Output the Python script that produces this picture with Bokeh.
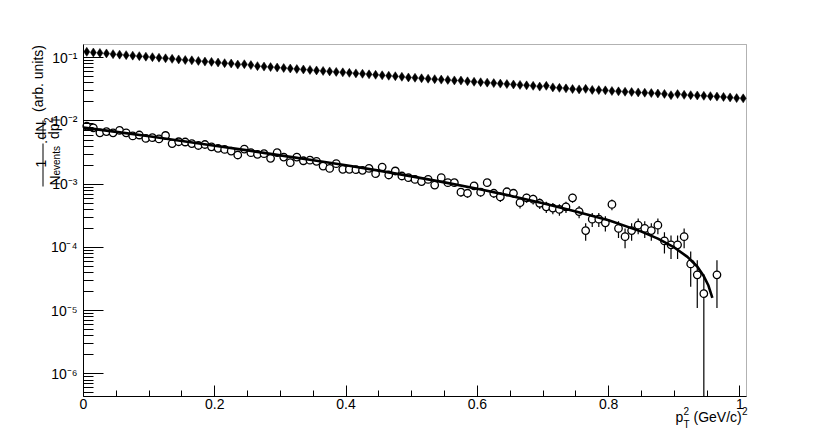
import math
import numpy as np
from bokeh.plotting import figure
from bokeh.models import (FixedTicker, CustomJSTickFormatter, Label, BoxAnnotation,
                          ColumnDataSource, Range1d)
from bokeh.embed import file_html
from bokeh.resources import INLINE

# ---------------- data ----------------
bin_start = 0.0
bin_width = 0.01

# filled diamonds (upper series), one value per 0.01 bin
diamond_vals = [
    0.124, 0.121, 0.119, 0.117, 0.114, 0.112, 0.110, 0.108, 0.106, 0.104,
    0.102, 0.100, 0.098, 0.096, 0.094, 0.092, 0.091, 0.089, 0.087, 0.086,
    0.084, 0.082, 0.081, 0.078, 0.079, 0.0765, 0.0737, 0.0725, 0.0712, 0.0700,
    0.0688, 0.0676, 0.0663, 0.0652, 0.0641, 0.0630, 0.0618, 0.0608, 0.0597, 0.0588,
    0.0577, 0.0566, 0.0558, 0.0547, 0.0538, 0.0528, 0.0519, 0.0510, 0.0500, 0.0488,
    0.0482, 0.0473, 0.0466, 0.0458, 0.0451, 0.0446, 0.0438, 0.0436, 0.0424, 0.0417,
    0.0410, 0.0404, 0.0397, 0.0390, 0.0384, 0.0378, 0.0372, 0.0366, 0.0360, 0.0350,
    0.0360, 0.0340, 0.0334, 0.0328, 0.0320, 0.0316, 0.0322, 0.0310, 0.0308, 0.0305,
    0.0298, 0.0294, 0.0290, 0.0287, 0.0283, 0.0280, 0.0276, 0.0272, 0.0268, 0.0256,
    0.0266, 0.0259, 0.0256, 0.0253, 0.0250, 0.0247, 0.0243, 0.0240, 0.0236, 0.0230,
    0.0228,
]

# open circles (lower series), one value per 0.01 bin (None = empty bin)
circle_vals = [
    8.3e-3, 7.8e-3, 6.5e-3, 6.8e-3, 6.5e-3, 7.1e-3, 6.5e-3, 5.8e-3, 6.0e-3, 5.3e-3,
    5.45e-3, 5.2e-3, 5.9e-3, 4.4e-3, 4.7e-3, 4.65e-3, 4.4e-3, 4.1e-3, 4.25e-3, 3.9e-3,
    3.7e-3, 3.55e-3, 3.35e-3, 2.9e-3, 3.6e-3, 3.15e-3, 2.97e-3, 3.04e-3, 2.57e-3, 3.16e-3,
    2.69e-3, 2.19e-3, 2.69e-3, 2.35e-3, 2.4e-3, 2.3e-3, 1.94e-3, 1.78e-3, 2.11e-3, 1.72e-3,
    1.72e-3, 1.7e-3, 1.66e-3, 1.78e-3, 1.47e-3, 1.87e-3, 1.40e-3, 1.62e-3, 1.35e-3, 1.27e-3,
    1.19e-3, 1.10e-3, 1.19e-3, 9.7e-4, 1.27e-3, 1.06e-3, 1.06e-3, 7.5e-4, 7.2e-4, 9.4e-4,
    7.5e-4, 1.06e-3, 7.2e-4, 6.3e-4, 7.6e-4, 7.2e-4, 5.1e-4, 6.1e-4, 5.8e-4, 5.0e-4,
    4.4e-4, 4.2e-4, 4.0e-4, 4.4e-4, 6.1e-4, 3.7e-4, 1.85e-4, 2.8e-4, 2.8e-4, 2.45e-4,
    4.8e-4, 2.0e-4, 1.48e-4, 1.85e-4, 2.25e-4, 2.0e-4, 1.85e-4, 2.25e-4, 1.27e-4, 1.1e-4,
    1.1e-4, 1.48e-4, 5.5e-5, 3.7e-5, 1.86e-5, None, 3.7e-5,
]
circle_errs = [
    3.8e-4, 3.7e-4, 3.4e-4, 3.5e-4, 3.4e-4, 3.5e-4, 3.4e-4, 3.2e-4, 3.3e-4, 3.1e-4,
    3.1e-4, 3.0e-4, 3.2e-4, 2.8e-4, 2.9e-4, 2.9e-4, 2.8e-4, 2.7e-4, 2.7e-4, 2.6e-4,
    2.6e-4, 2.5e-4, 2.4e-4, 2.3e-4, 2.5e-4, 2.4e-4, 2.3e-4, 2.3e-4, 2.1e-4, 2.4e-4,
    2.2e-4, 2.0e-4, 2.2e-4, 2.0e-4, 2.0e-4, 2.0e-4, 1.8e-4, 1.8e-4, 1.9e-4, 1.7e-4,
    1.7e-4, 1.7e-4, 1.7e-4, 1.8e-4, 1.6e-4, 1.8e-4, 1.6e-4, 1.7e-4, 1.5e-4, 1.5e-4,
    1.4e-4, 1.4e-4, 1.4e-4, 1.3e-4, 1.5e-4, 1.4e-4, 1.4e-4, 1.15e-4, 1.1e-4, 1.3e-4,
    1.15e-4, 1.4e-4, 1.1e-4, 1.05e-4, 1.15e-4, 1.1e-4, 9.5e-5, 1.0e-4, 1.0e-4, 9.4e-5,
    8.8e-5, 8.6e-5, 8.4e-5, 8.8e-5, 1.0e-4, 8.1e-5, 5.7e-5, 7.0e-5, 7.0e-5, 6.6e-5,
    9.2e-5, 5.9e-5, 5.1e-5, 5.7e-5, 6.3e-5, 5.9e-5, 5.7e-5, 6.3e-5, 4.7e-5, 4.4e-5,
    4.4e-5, 5.1e-5, 3.1e-5, 2.6e-5, 1.9e-5, None, 2.6e-5,
]

# fit curve, sampled along the drawn line
fit_x = [0.0, 0.05, 0.1, 0.15, 0.2, 0.25, 0.3, 0.35, 0.4, 0.45, 0.5, 0.55, 0.6,
         0.65, 0.7, 0.75, 0.8, 0.85, 0.875, 0.9, 0.92, 0.935, 0.945, 0.952, 0.958]
fit_y = [7.85e-3, 6.73e-3, 5.73e-3, 4.84e-3, 4.07e-3, 3.43e-3, 2.86e-3, 2.40e-3,
         2.0e-3, 1.64e-3, 1.33e-3, 1.07e-3, 8.5e-4, 6.6e-4, 5.0e-4, 3.7e-4, 2.7e-4,
         1.78e-4, 1.38e-4, 1.0e-4, 7.1e-5, 5.0e-5, 3.5e-5, 2.5e-5, 1.6e-5]

x_major = [0, 0.2, 0.4, 0.6, 0.8, 1.0]
y_major = [1e-6, 1e-5, 1e-4, 1e-3, 1e-2, 1e-1]

X_RANGE = (0.0, 1.01)      # axis extent
Y_RANGE = (4.4e-7, 0.162)  # axis extent

# ---------------- geometry (page pixels) ----------------
W, H = 822, 432
PX0, PX1 = 83, 746      # pixel columns of X_RANGE ends
PY_TOP, PY_BOT = 44, 396  # pixel rows of Y_RANGE ends
FL, FR, FT, FB = 10, 752, 28, 430  # drawing frame (wider, so titles are not clipped)

x_per_px = (X_RANGE[1] - X_RANGE[0]) / (PX1 - PX0)
LOG_TOP = math.log10(Y_RANGE[1])
LOG_BOT = math.log10(Y_RANGE[0])
dec_per_px = (LOG_TOP - LOG_BOT) / (PY_BOT - PY_TOP)


def xdat(px):
    return X_RANGE[0] + (px - PX0) * x_per_px


def ydat(py):
    return 10 ** (LOG_TOP - (py - PY_TOP) * dec_per_px)


# ---------------- build sources ----------------
d_x = bin_start + bin_width * (np.arange(len(diamond_vals)) + 0.5)
dia_src = ColumnDataSource(dict(x=d_x, y=diamond_vals))

c_all_x = bin_start + bin_width * (np.arange(len(circle_vals)) + 0.5)
cx, cy, clo, chi = [], [], [], []
for xx, yy, ee in zip(c_all_x, circle_vals, circle_errs):
    if yy is None:
        continue
    cx.append(xx)
    cy.append(yy)
    chi.append(min(yy + ee, Y_RANGE[1]))
    clo.append(max(yy - ee, Y_RANGE[0]))
cir_src = ColumnDataSource(dict(x=cx, y=cy, lo=clo, hi=chi))

# ---------------- figure ----------------
FONT = "Liberation Sans"
p = figure(width=W, height=H,
           x_range=Range1d(xdat(FL), xdat(FR)), y_range=Range1d(ydat(FB), ydat(FT)),
           y_axis_type="log", output_backend="svg", toolbar_location=None,
           min_border_left=FL, min_border_right=W - FR, min_border_top=FT,
           min_border_bottom=H - FB,
           background_fill_color="white", border_fill_color="white")
p.xgrid.visible = False
p.ygrid.visible = False
p.outline_line_color = None

# axes pinned to the data box
p.xaxis.fixed_location = Y_RANGE[0]
p.xaxis.bounds = X_RANGE
p.yaxis.fixed_location = X_RANGE[0]
p.yaxis.bounds = Y_RANGE

x_minor = [round(0.05 * k, 2) for k in range(1, 20) if k % 4 != 0]
p.xaxis.ticker = FixedTicker(ticks=x_major, minor_ticks=x_minor)
p.xaxis.formatter = CustomJSTickFormatter(code="return String(Math.round(tick*10)/10);")
y_minor = [m * 10.0 ** k for k in range(-7, 0) for m in range(2, 10)
           if Y_RANGE[0] <= m * 10.0 ** k <= Y_RANGE[1]]
p.yaxis.ticker = FixedTicker(ticks=y_major, minor_ticks=y_minor)
p.yaxis.formatter = CustomJSTickFormatter(code="""
const sup = {'-':'\u207b','0':'\u2070','1':'\u00b9','2':'\u00b2','3':'\u00b3','4':'\u2074',
             '5':'\u2075','6':'\u2076','7':'\u2077','8':'\u2078','9':'\u2079'};
const e = Math.round(Math.log10(tick));
return '10' + String(e).split('').map(c => sup[c]).join('');
""")

for ax in (p.xaxis, p.yaxis):
    ax.axis_line_color = "black"
    ax.axis_line_width = 1
    ax.major_tick_line_color = "black"
    ax.minor_tick_line_color = "black"
    ax.major_tick_out = 0
    ax.minor_tick_out = 0
    ax.major_label_text_font = FONT
    ax.major_label_text_font_size = "14px"
    ax.major_label_text_color = "black"
p.xaxis.major_tick_in = 11
p.xaxis.minor_tick_in = 6
p.xaxis.major_label_standoff = 2
p.yaxis.major_tick_in = 20
p.yaxis.minor_tick_in = 10
p.yaxis.major_label_standoff = 6

# data box outline (top / right edges)
p.add_layout(BoxAnnotation(left=X_RANGE[0], right=X_RANGE[1], bottom=Y_RANGE[0], top=Y_RANGE[1],
                           fill_alpha=0.0, line_color="black", line_width=1))

# ---------------- glyphs ----------------
p.scatter("x", "y", source=dia_src, marker="diamond", size=9,
          fill_color="black", line_color="black", line_width=0.5)
p.segment(x0="x", y0="lo", x1="x", y1="hi", source=cir_src, line_color="black", line_width=1.2)
p.scatter("x", "y", source=cir_src, marker="circle", size=7.5,
          fill_color="white", line_color="black", line_width=1.3)
p.line(fit_x, fit_y, line_color="black", line_width=2.6)


# ---------------- axis titles ----------------
def lab(text, px, py, size, angle=0.0, align="left", baseline="alphabetic"):
    p.add_layout(Label(x=xdat(px), y=ydat(py), text=text,
                       angle=angle, text_align=align, text_baseline=baseline,
                       text_font=FONT, text_font_size=f"{size}px", text_color="black"))


def bar(px0, px1, py0, py1):
    p.add_layout(BoxAnnotation(left=xdat(px0), right=xdat(px1), bottom=ydat(py1), top=ydat(py0),
                               fill_color="black", fill_alpha=1.0, line_alpha=0.0))


R = math.pi / 2
# y title: 1/N_events . dN/dp_T^2 (arb. units)
lab("1", 40.5, 163, 14, R, "center")
bar(42, 43, 143, 186)
lab("N", 54, 185, 14, R, "left")
lab("events", 55.5, 175, 10, R, "left")
lab("\u00b7", 44.5, 141.5, 14, R, "center")
lab("dN", 40.5, 130, 14, R, "center")
bar(42, 43, 120, 139)
lab("dp", 53.5, 138.5, 14, R, "left")
lab("2", 47, 122.5, 10, R, "left")
lab("T", 56, 122.5, 10, R, "left")
lab("(arb. units)", 37.5, 78, 14, R, "center", "middle")

# x title: p_T^2 (GeV/c)^2
lab("p", 675, 416, 14)
lab("2", 683, 410, 10)
lab("T", 683, 424, 10)
lab("(GeV/c)", 693, 416, 14)
lab("2", 741.5, 410, 10)

open("out.html", "w").write(file_html(p, INLINE))
